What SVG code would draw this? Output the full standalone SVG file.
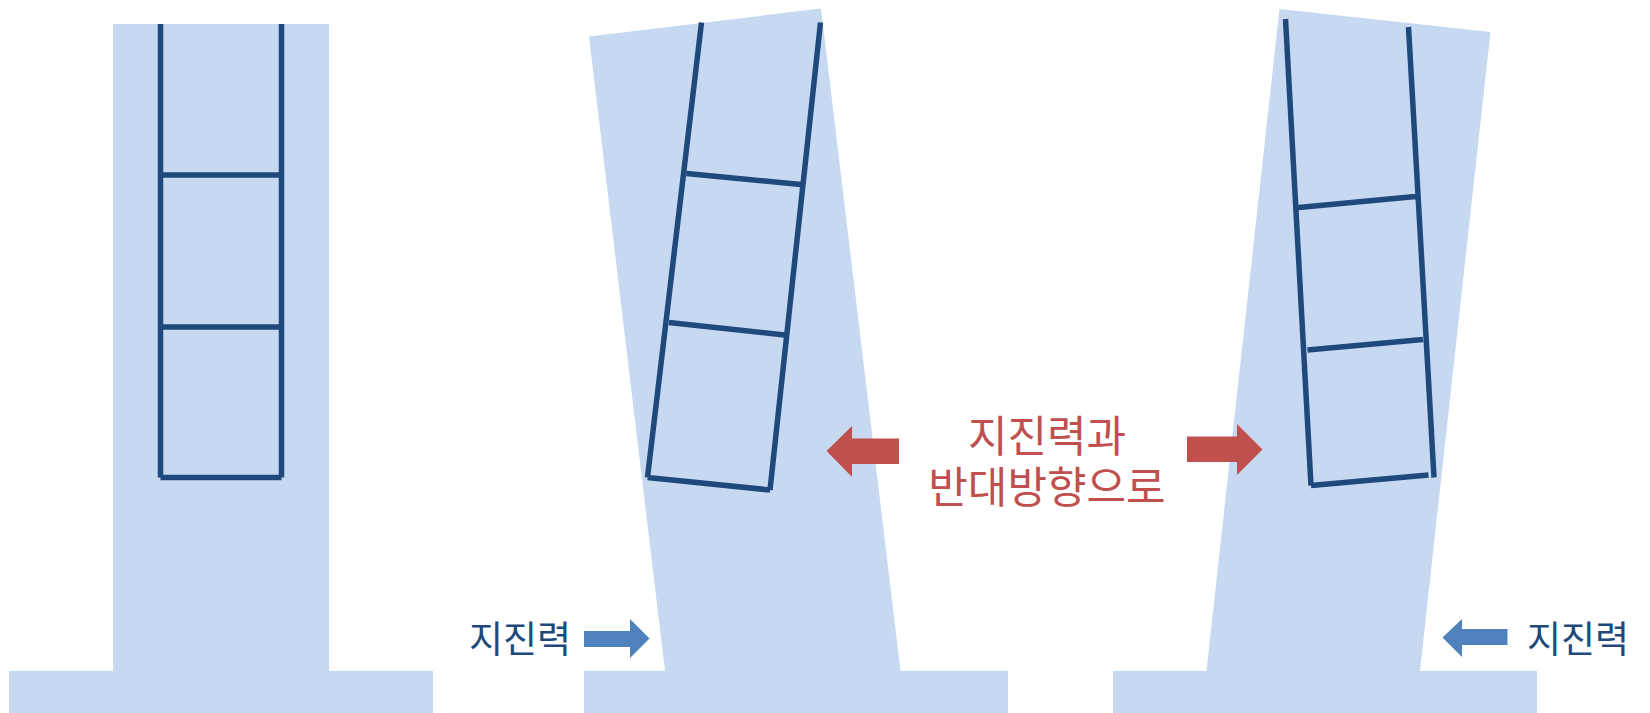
<svg xmlns="http://www.w3.org/2000/svg" width="1650" height="713" viewBox="0 0 1650 713">
<style>
.fill{fill:#C6D9F0}
.lad{stroke:#1F497D;stroke-width:5.5;fill:none;stroke-linecap:butt}
.red{fill:#C0504D}
.blue{fill:#4F81BD}
.rt{font-family:"Noto Sans CJK KR","Noto Sans",sans-serif;font-size:43px;fill:#C0504D;text-anchor:middle}
.bt{font-family:"Noto Sans CJK KR","Noto Sans",sans-serif;font-size:37px;fill:#1F497D}
</style>
<rect width="1650" height="713" fill="#fff"/>
<g id="building-left">
<rect class="fill" x="113" y="24" width="216" height="660"/>
<rect class="fill" x="9" y="671" width="424" height="42"/>
<path class="lad" d="M160.5 24V477.5M281.5 24V477.5M160.5 175H281.5M160.5 327H281.5M160.5 477.5H281.5"/>
</g>
<g id="building-middle">
<polygon class="fill" points="589,36.5 821,8.5 901,675 665.5,675"/>
<rect class="fill" x="584" y="671" width="424" height="42"/>
<path class="lad" d="M701.5 22.5L647.5 477.5M820.5 22.5L770 490M647.5 477.5L770 490M686.5 173.5L801 184.5M669 322.5L784.5 335"/>
</g>
<g id="building-right">
<polygon class="fill" points="1279.5,9 1490.5,32 1419.5,675 1206,675"/>
<rect class="fill" x="1113" y="671" width="424" height="42"/>
<path class="lad" d="M1285.5 19L1311 485.5M1408.5 27L1434 477.5M1311 485.5L1428.5 475M1298.5 207.5L1415.5 196.5M1307.5 350L1423 339.5"/>
</g>
<g id="connectors">
<polygon class="red" points="826.5,451 852,426 852,438.5 899,438.5 899,464 852,464 852,477"/>
<polygon class="red" points="1262.5,449.5 1237,424 1237,436.5 1187,436.5 1187,462 1237,462 1237,475"/>
<polygon class="blue" points="649.5,638.5 630,619 630,631 584,631 584,647 630,647 630,658"/>
<polygon class="blue" points="1442.5,637.5 1462,619 1462,629 1507.5,629 1507.5,645 1462,645 1462,657"/>
</g>
<g id="label-center">
<text class="rt" x="1047" y="452">지진력과</text>
<text class="rt" x="1047" y="503">반대방향으로</text>
</g>
<g id="label-left"><text class="bt" x="469" y="653">지진력</text></g>
<g id="label-right"><text class="bt" x="1527" y="653">지진력</text></g>
</svg>
